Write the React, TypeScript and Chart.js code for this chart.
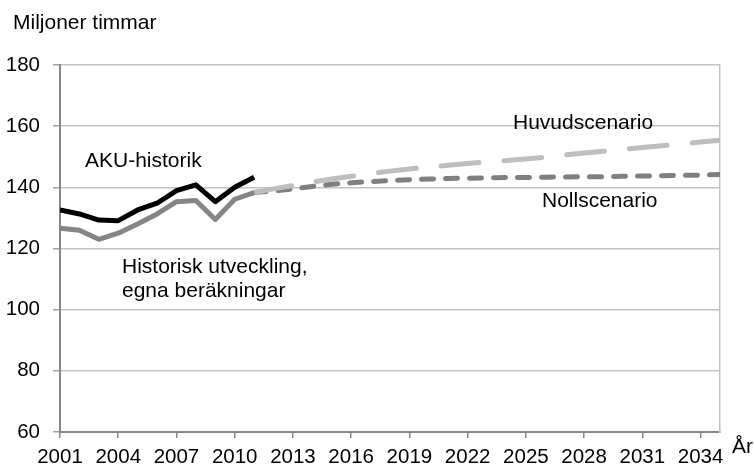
import React, { useEffect, useRef } from "react";
import { Chart, registerables } from "chart.js";

Chart.register(...registerables);

const histYears = [2001, 2002, 2003, 2004, 2005, 2006, 2007, 2008, 2009, 2010, 2011];
const akuHistorik = [132.6, 131.3, 129.3, 129.1, 132.6, 134.8, 138.9, 140.8, 135.3, 140.0, 143.3];
const egnaBerakningar = [126.6, 126.0, 123.0, 125.0, 128.0, 131.3, 135.3, 135.7, 129.5, 136.1, 138.3];

const scenarioYears = [
  2011, 2012, 2013, 2014, 2015, 2016, 2017, 2018, 2019, 2020, 2021, 2022, 2023,
  2024, 2025, 2026, 2027, 2028, 2029, 2030, 2031, 2032, 2033, 2034, 2035,
];
const huvudscenario = [
  138.3, 139.5, 140.6, 141.7, 142.7, 143.6, 144.5, 145.3, 146.0, 146.6, 147.2, 147.8, 148.3,
  148.8, 149.3, 149.9, 150.6, 151.2, 151.8, 152.4, 153.0, 153.6, 154.2, 154.8, 155.4,
];
const nollscenario = [
  138.3, 138.8, 139.5, 140.3, 141.0, 141.5, 141.9, 142.2, 142.5, 142.7, 142.9, 143.0, 143.1,
  143.2, 143.2, 143.3, 143.4, 143.5, 143.5, 143.6, 143.7, 143.8, 143.9, 144.0, 144.2,
];

const xTicks = [2001, 2004, 2007, 2010, 2013, 2016, 2019, 2022, 2025, 2028, 2031, 2034];
const yTicks = [60, 80, 100, 120, 140, 160, 180];

const yAxisTitle = "Miljoner timmar";
const xAxisTitle = "År";
const labelAku = "AKU-historik";
const labelHist = ["Historisk utveckling,", "egna beräkningar"];
const labelHuvud = "Huvudscenario";
const labelNoll = "Nollscenario";

const FONT = '"Liberation Sans", Arial, sans-serif';

const toPoints = (xs: number[], ys: number[]) => xs.map((x, i) => ({ x, y: ys[i] }));

const textPlugin = {
  id: "texts",
  afterDraw(chart: any) {
    const ctx = chart.ctx;
    ctx.save();
    ctx.fillStyle = "#000";
    ctx.textBaseline = "alphabetic";
    ctx.textAlign = "left";
    ctx.font = `21px ${FONT}`;
    ctx.fillText(yAxisTitle, 13, 29);
    ctx.fillText(labelAku, 85, 167);
    ctx.fillText(labelHist[0], 122, 273);
    ctx.fillText(labelHist[1], 122, 297);
    ctx.fillText(labelHuvud, 513, 129);
    ctx.fillText(labelNoll, 542, 207);
    ctx.fillText(xAxisTitle, 732, 453);
    ctx.restore();
  },
};

export default function App() {
  const ref = useRef<HTMLCanvasElement | null>(null);

  useEffect(() => {
    if (!ref.current) return;
    const chart = new Chart(ref.current, {
      type: "line",
      data: {
        datasets: [
          {
            label: "AKU-historik",
            data: toPoints(histYears, akuHistorik),
            borderColor: "#000000",
            borderWidth: 5,
            pointRadius: 0,
            tension: 0,
            borderJoinStyle: "round",
            order: 0,
          },
          {
            label: "Historisk utveckling",
            data: toPoints(histYears, egnaBerakningar),
            borderColor: "#858585",
            borderWidth: 5,
            pointRadius: 0,
            tension: 0,
            borderJoinStyle: "round",
            order: 1,
          },
          {
            label: "Huvudscenario",
            data: toPoints(scenarioYears, huvudscenario),
            borderColor: "#bebebe",
            borderWidth: 5,
            pointRadius: 0,
            tension: 0,
            borderDash: [38, 25],
            borderCapStyle: "round",
            order: 2,
          },
          {
            label: "Nollscenario",
            data: toPoints(scenarioYears, nollscenario),
            borderColor: "#7f7f7f",
            borderWidth: 5,
            pointRadius: 0,
            tension: 0,
            borderDash: [12, 12],
            borderCapStyle: "round",
            order: 3,
          },
        ],
      },
      options: {
        animation: false,
        responsive: false,
        devicePixelRatio: 1,
        layout: { padding: { top: 65, right: 34, bottom: 0, left: 0 } },
        plugins: { legend: { display: false }, tooltip: { enabled: false } },
        scales: {
          x: {
            type: "linear",
            min: 2001,
            max: 2035,
            afterBuildTicks: (s: any) => {
              s.ticks = xTicks.map((v) => ({ value: v }));
            },
            afterFit: (s: any) => {
              s.height = 35;
            },
            grid: {
              drawOnChartArea: false,
              drawTicks: true,
              tickLength: 6,
              color: "#868686",
              lineWidth: 1.5,
            },
            border: { display: true, color: "#868686", width: 2 },
            ticks: {
              color: "#000",
              font: { family: FONT, size: 20.5 },
              padding: 7,
              maxRotation: 0,
              autoSkip: false,
              callback: (v: any) => String(v),
            },
          },
          y: {
            min: 60,
            max: 180,
            afterBuildTicks: (s: any) => {
              s.ticks = yTicks.map((v) => ({ value: v }));
            },
            afterFit: (s: any) => {
              s.width = 60;
            },
            grid: {
              color: (c: any) => (c.tick && c.tick.value === 60 ? "rgba(0,0,0,0)" : "#c3c3c3"),
              tickColor: "#a0a0a0",
              tickLength: 7,
              lineWidth: 1.5,
            },
            border: { display: true, color: "#868686", width: 2 },
            ticks: {
              color: "#000",
              font: { family: FONT, size: 20.5 },
              padding: 13,
              callback: (v: any) => String(v),
            },
          },
          y2: {
            position: "right",
            min: 60,
            max: 180,
            afterFit: (s: any) => {
              s.width = 0;
            },
            grid: { display: true, drawOnChartArea: false, drawTicks: false },
            ticks: { display: false },
            border: { display: true, color: "#c3c3c3", width: 1.5 },
          },
        },
      },
      plugins: [textPlugin],
    } as any);
    return () => chart.destroy();
  }, []);

  return (
    <div style={{ position: "fixed", left: 0, top: 0, width: 754, height: 467, background: "#fff" }}>
      <canvas ref={ref} width={754} height={467} style={{ display: "block" }} />
    </div>
  );
}
